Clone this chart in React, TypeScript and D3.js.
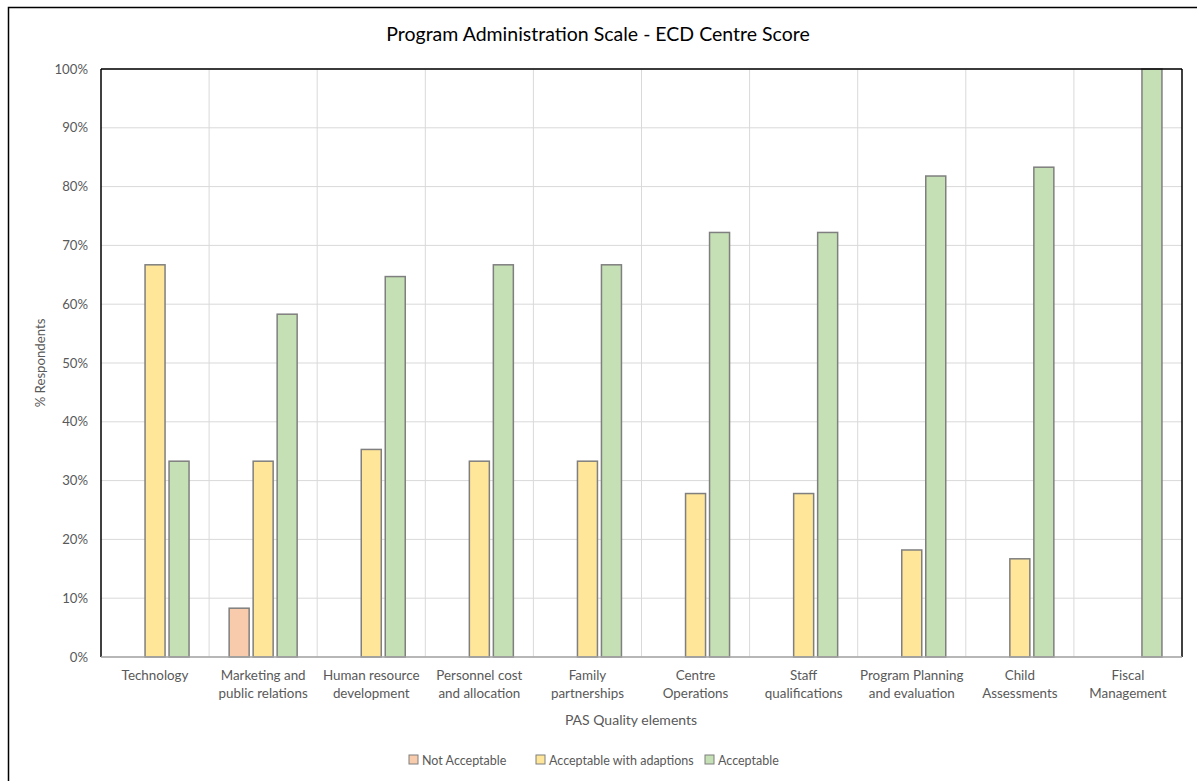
import React from "react";
import * as d3 from "d3";

const categories: string[][] = [
  ["Technology"],
  ["Marketing and", "public relations"],
  ["Human resource", "development"],
  ["Personnel cost", "and allocation"],
  ["Family", "partnerships"],
  ["Centre", "Operations"],
  ["Staff", "qualifications"],
  ["Program Planning", "and evaluation"],
  ["Child", "Assessments"],
  ["Fiscal", "Management"],
];

const notAcceptable = [0, 8.3, 0, 0, 0, 0, 0, 0, 0, 0];
const acceptableWithAdaptions = [66.7, 33.3, 35.3, 33.3, 33.3, 27.8, 27.8, 18.2, 16.7, 0];
const acceptable = [33.3, 58.3, 64.7, 66.7, 66.7, 72.2, 72.2, 81.8, 83.3, 100];

const seriesNames = ["Not Acceptable", "Acceptable with adaptions", "Acceptable"];
const seriesColors = ["#F8CBAD", "#FFE699", "#C5E0B4"];
const yTicks = [0, 10, 20, 30, 40, 50, 60, 70, 80, 90, 100];

const W = 1197;
const H = 781;
const plot = { left: 101, right: 1182, top: 69, bottom: 657 };
const font = "Lato, 'Open Sans', sans-serif";
const textColor = "#595959";

export default function App() {
  const series = [notAcceptable, acceptableWithAdaptions, acceptable];
  const idx = categories.map((_, i) => String(i));
  const x = d3.scaleBand<string>().domain(idx).range([plot.left, plot.right]);
  const y = d3.scaleLinear().domain([0, 100]).range([plot.bottom, plot.top]);
  const barW = 20;
  const step = 24;

  return (
    <svg
      width={W}
      height={H}
      style={{ position: "absolute", left: 0, top: 0, background: "#fff" }}
      fontFamily={font}
    >
      <rect x={8.5} y={7.5} width={W + 20} height={H + 20} fill="#fff" stroke="#000" strokeWidth={1.5} />
      <text x={598} y={41} textAnchor="middle" fontSize={19.5} fill="#000">
        Program Administration Scale - ECD Centre Score
      </text>

      {/* horizontal gridlines */}
      {yTicks.map((t) => (
        <line key={"h" + t} x1={plot.left} x2={plot.right} y1={y(t)} y2={y(t)} stroke="#d9d9d9" strokeWidth={1} />
      ))}
      {/* vertical category separators */}
      {idx.slice(1).map((k) => (
        <line key={"v" + k} x1={x(k)!} x2={x(k)!} y1={plot.top} y2={plot.bottom} stroke="#d9d9d9" strokeWidth={1} />
      ))}

      {/* bars */}
      {idx.map((k, i) => {
        const c = x(k)! + x.bandwidth() / 2;
        return series.map((s, j) => {
          const v = s[i];
          if (v <= 0) return null;
          const bx = c + (j - 1) * step - barW / 2;
          return (
            <rect
              key={k + "-" + j}
              x={bx}
              y={y(v)}
              width={barW}
              height={y(0) - y(v)}
              fill={seriesColors[j]}
              stroke="#7f7f7f"
              strokeWidth={1.5}
            />
          );
        });
      })}

      {/* plot border */}
      <line x1={plot.left} x2={plot.right} y1={plot.top} y2={plot.top} stroke="#000" strokeWidth={1.5} />
      <line x1={plot.left} x2={plot.left} y1={plot.top} y2={plot.bottom} stroke="#000" strokeWidth={1.5} />
      <line x1={plot.right} x2={plot.right} y1={plot.top} y2={plot.bottom} stroke="#000" strokeWidth={1.5} />
      <line x1={plot.left} x2={plot.right} y1={plot.bottom} y2={plot.bottom} stroke="#a6a6a6" strokeWidth={1.5} />

      {/* y tick labels */}
      {yTicks.map((t) => (
        <text key={"yt" + t} x={88} y={y(t) + 4.5} textAnchor="end" fontSize={13.2} fill={textColor}>
          {t + "%"}
        </text>
      ))}

      {/* x tick labels */}
      {idx.map((k, i) => {
        const c = x(k)! + x.bandwidth() / 2;
        return (
          <text key={"xt" + k} textAnchor="middle" fontSize={13.4} fill={textColor}>
            {categories[i].map((ln, li) => (
              <tspan key={li} x={c} y={680 + li * 18}>
                {ln}
              </tspan>
            ))}
          </text>
        );
      })}

      {/* axis titles */}
      <text x={631} y={725} textAnchor="middle" fontSize={14} fill={textColor}>
        PAS Quality elements
      </text>
      <text transform={`translate(45,${(plot.top + plot.bottom) / 2}) rotate(-90)`} textAnchor="middle" fontSize={13.2} fill={textColor}>
        % Respondents
      </text>

      {/* legend */}
      {seriesNames.map((n, j) => {
        const lx = [409, 536, 705][j];
        return (
          <g key={"lg" + j}>
            <rect x={lx} y={755} width={9} height={9} fill={seriesColors[j]} stroke="#7f7f7f" strokeWidth={1} />
            <text x={lx + 13} y={764.5} fontSize={12.5} fill={textColor}>
              {n}
            </text>
          </g>
        );
      })}
    </svg>
  );
}
